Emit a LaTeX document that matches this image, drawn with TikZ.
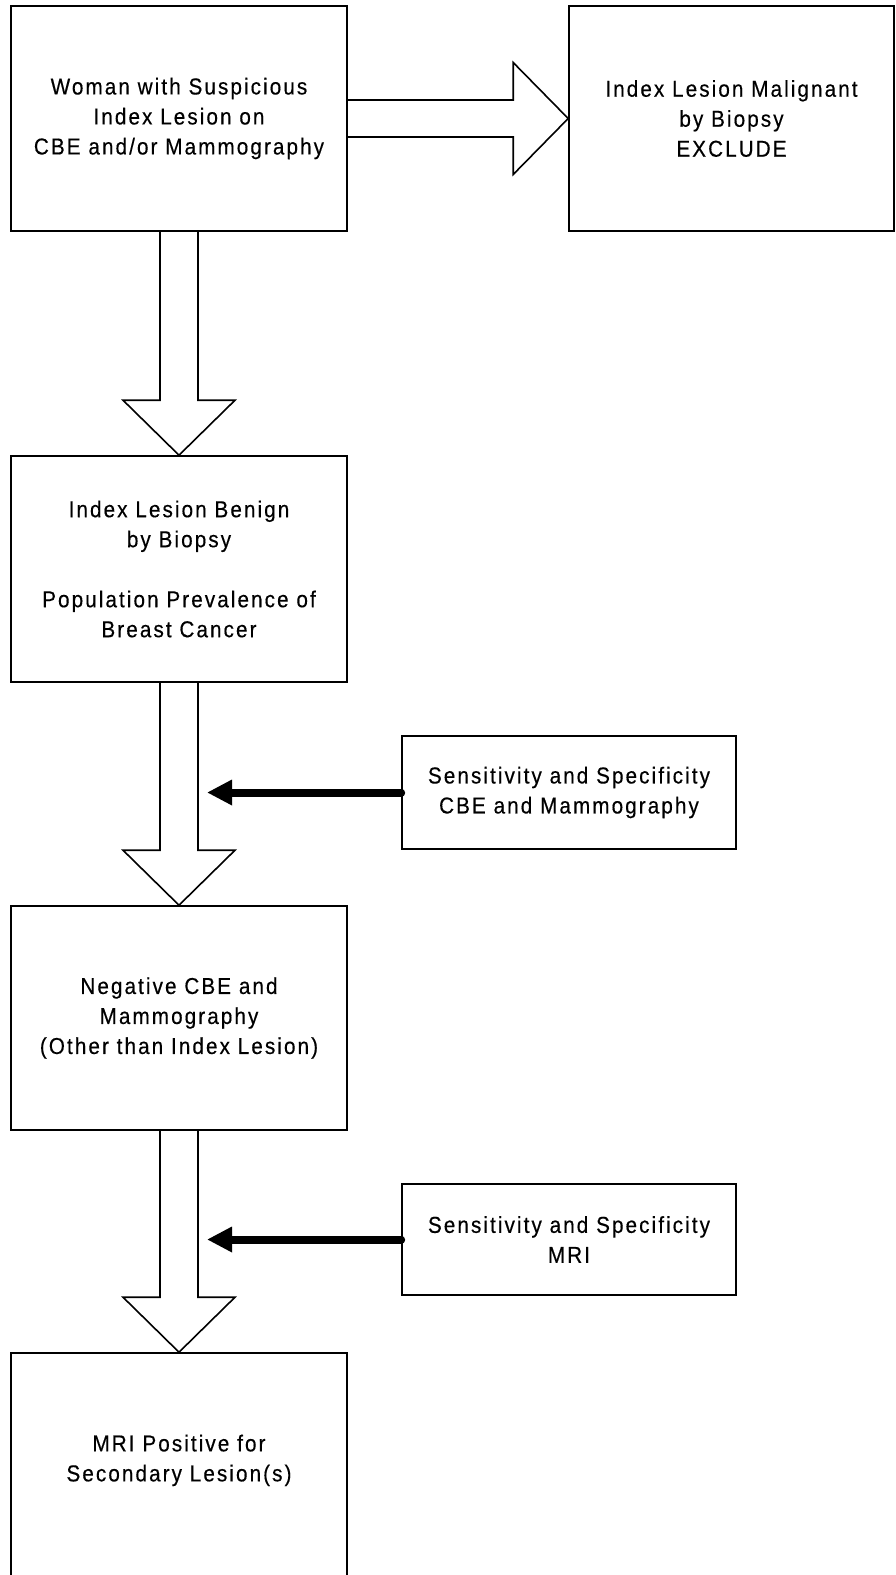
\documentclass[tikz,border=0pt]{standalone}
\usepackage{fontspec}
\setmainfont{Liberation Sans}[FakeStretch=0.9, LetterSpace=9, FakeBold=0.4]
\usetikzlibrary{arrows.meta, calc}

\newcommand{\blockdown}[2]{%
  \draw[block_style] ($(#1.south)+(-\shaft,0)$) -- ($(#2.north)+(-\shaft,-\headl)$)
    -- ($(#2.north)+(-\headw,-\headl)$) -- (#2.north)
    -- ($(#2.north)+(\headw,-\headl)$) -- ($(#2.north)+(\shaft,-\headl)$)
    -- ($(#1.south)+(\shaft,0)$);}

\begin{document}
\begin{tikzpicture}[x=1pt, y=-1pt]
    \tikzstyle{box_style} = [draw, line width=1.6pt, align=center, inner sep=0pt, font=\fontsize{23}{30}\selectfont]
    \tikzstyle{block_style} = [line width=1.6pt, line join=miter]
    \tikzstyle{feed_style} = [-{Triangle[length=25pt, width=24pt]}, line width=8pt, line cap=round]

    \def\shaft{19}
    \def\headw{56}
    \def\headl{55}

    \useasboundingbox (0,0) rectangle (895,1575);

    % main column
    \node[box_style, minimum width=336pt, minimum height=225pt] (woman) at (179,118.5)
      {Woman with Suspicious\\Index Lesion on\\CBE and/or Mammography};
    \node[box_style, minimum width=325pt, minimum height=225pt] (malig) at (731.5,118.5)
      {Index Lesion Malignant\\by Biopsy\\EXCLUDE};
    \node[box_style, minimum width=336pt, minimum height=226pt] (benign) at (179,569)
      {Index Lesion Benign\\by Biopsy\\[30pt]Population Prevalence of\\Breast Cancer};
    \node[box_style, minimum width=336pt, minimum height=224pt] (negative) at (179,1018)
      {Negative CBE and\\Mammography\\(Other than Index Lesion)};
    \node[box_style, minimum width=336pt, minimum height=250pt] (mri) at (179,1478)
      {MRI Positive for\\Secondary Lesion(s)\\[10pt]};

    % side inputs
    \node[box_style, minimum width=334pt, minimum height=113pt] (sens1) at (569,792.5)
      {Sensitivity and Specificity\\CBE and Mammography};
    \node[box_style, minimum width=334pt, minimum height=111pt] (sens2) at (569,1239.5)
      {Sensitivity and Specificity\\MRI};

    % hollow block arrows
    \draw[block_style] ($(woman.east)+(0,-18.5)$) -- ($(malig.west)+(-\headl,-18.5)$)
      -- ($(malig.west)+(-\headl,-\headw)$) -- (malig.west)
      -- ($(malig.west)+(-\headl,\headw)$) -- ($(malig.west)+(-\headl,18.5)$)
      -- ($(woman.east)+(0,18.5)$);
    \blockdown{woman}{benign}
    \blockdown{benign}{negative}
    \blockdown{negative}{mri}

    % solid feeds into the shafts
    \coordinate (gapB) at ($(benign.south)+(28,0)$);
    \coordinate (gapC) at ($(negative.south)+(28,0)$);
    \draw[feed_style] (sens1.west) -- (sens1.west -| gapB);
    \draw[feed_style] (sens2.west) -- (sens2.west -| gapC);
\end{tikzpicture}
\end{document}
